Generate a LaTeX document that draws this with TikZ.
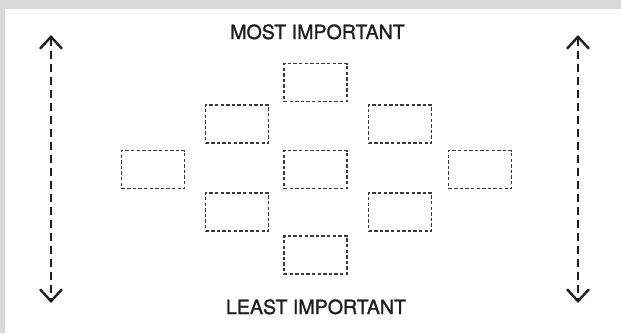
\documentclass[tikz,border=0pt]{standalone}
\usepackage{fontspec}
\setmainfont{TeX Gyre Heros}
\usetikzlibrary{arrows.meta}
\definecolor{frame}{HTML}{D9D9D9}
\definecolor{ink}{HTML}{1E1E1E}
\definecolor{boxline}{HTML}{3A3A3A}
\begin{document}
\begin{tikzpicture}[x=1pt,y=-1pt,
  slot/.style={draw=boxline,line width=1.25pt,dash pattern=on 3.4pt off 2.2pt,minimum width=63pt,minimum height=38pt,inner sep=0pt},
  label/.style={text=ink,font=\fontsize{19.6}{22}\selectfont\addfontfeature{FakeBold=1.2},inner sep=0pt,anchor=base},
  scale arrow/.style={draw=ink,line width=2.9pt,dash pattern=on 8pt off 5pt,
    {Straight Barb[length=12pt,width=22pt,line width=2.4pt]}-{Straight Barb[length=12pt,width=22pt,line width=2.4pt]}}]
\useasboundingbox (0,0) rectangle (621,333);
\fill[frame] (0,0) rectangle (621,333);
\fill[white] (5,9) rectangle (621,333);
% labels
\node[label] (most) at (317.5,39) {MOST IMPORTANT};
\node[label] (least) at (316,314) {LEAST IMPORTANT};
% boxes
\node[slot] (t)  at (315.5,82.5) {};
\node[slot] (ul) at (237,124) {};
\node[slot] (ur) at (400,124) {};
\node[slot] (ml) at (153,169.5) {};
\node[slot] (mc) at (315.5,169.5) {};
\node[slot] (mr) at (480,169.5) {};
\node[slot] (ll) at (237,212) {};
\node[slot] (lr) at (400,212) {};
\node[slot] (b)  at (315.5,255) {};
% arrows
\coordinate (lt) at (51,35);
\coordinate (lb) at (51,303);
\coordinate (rt) at (578,35);
\coordinate (rb) at (578,303);
\draw[scale arrow] (lt) -- (lb);
\draw[scale arrow] (rt) -- (rb);
\end{tikzpicture}
\end{document}
